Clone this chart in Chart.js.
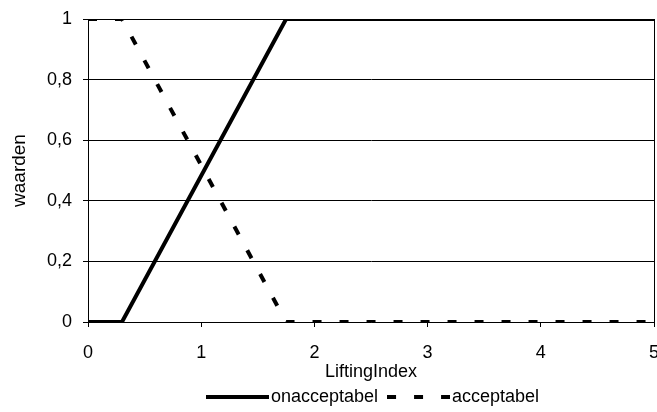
<!DOCTYPE html>
<html>
<head>
<meta charset="utf-8">
<script src="https://cdn.jsdelivr.net/npm/chart.js@4"></script>
<style>
  html, body { margin: 0; padding: 0; background: #fff; }
  #wrap { width: 657px; height: 412px; }
</style>
</head>
<body>
<div id="wrap"><canvas id="myChart"></canvas></div>
<script>
// breakpoints on the LiftingIndex axis
const liftingIndex = [0, 0.3, 1.75, 5];
const onacceptabel = [0, 0, 1, 1];
const acceptabel = [1, 1, 0, 0];
const xTicks = [0, 1, 2, 3, 4, 5];
const yTicks = [0, 0.2, 0.4, 0.6, 0.8, 1];

const FONT = 'Liberation Sans, Arial, sans-serif';

function toPoints(xs, ys) {
  return xs.map((x, i) => ({ x: x, y: ys[i] }));
}

// small legend sample (solid or dashed line) as an image for pointStyle
function lineSample(dash) {
  const c = document.createElement('canvas');
  c.width = 63;
  c.height = 6;
  const g = c.getContext('2d');
  g.strokeStyle = '#000';
  g.lineWidth = 4;
  g.setLineDash(dash);
  g.beginPath();
  g.moveTo(0, 3);
  g.lineTo(63, 3);
  g.stroke();
  return c;
}

// move the legend so it sits under the plot like the original
const legendShift = {
  id: 'legendShift',
  afterLayout(chart) {
    const lg = chart.legend;
    lg.left += 49;
    lg.right += 49;
    lg.top -= 9;
    lg.bottom -= 9;
  }
};

const ctx = document.getElementById('myChart').getContext('2d');
new Chart(ctx, {
  type: 'line',
  data: {
    datasets: [
      {
        label: 'onacceptabel',
        data: toPoints(liftingIndex, onacceptabel),
        borderColor: '#000',
        backgroundColor: '#000',
        borderWidth: 4,
        pointRadius: 0,
        pointStyle: lineSample([]),
        tension: 0
      },
      {
        label: 'acceptabel',
        data: toPoints(liftingIndex, acceptabel),
        borderColor: '#000',
        backgroundColor: '#000',
        borderWidth: 4,
        borderDash: [9, 18],
        pointRadius: 0,
        pointStyle: lineSample([9, 18]),
        tension: 0
      }
    ]
  },
  options: {
    responsive: true,
    maintainAspectRatio: false,
    animation: false,
    layout: { padding: { top: 19, right: 3, bottom: -13, left: 0 } },
    plugins: {
      tooltip: { enabled: false },
      legend: {
        position: 'bottom',
        labels: {
          usePointStyle: true,
          pointStyleWidth: 49,
          padding: 16,
          color: '#000',
          font: { family: FONT, size: 18 }
        }
      }
    },
    scales: {
      x: {
        type: 'linear',
        min: 0,
        max: 5,
        afterBuildTicks: s => { s.ticks = xTicks.map(v => ({ value: v })); },
        afterFit: s => { s.paddingLeft = 0; s.paddingRight = 0; },
        border: { display: true, color: '#000', width: 1 },
        grid: {
          color: c => (c.tick && c.tick.value === 5 ? '#000' : 'rgba(0,0,0,0)'),
          tickColor: '#000',
          tickLength: 5,
          lineWidth: 1
        },
        ticks: {
          color: '#000',
          padding: 17,
          maxRotation: 0,
          font: { family: FONT, size: 18, lineHeight: 1 }
        },
        title: {
          display: true,
          text: 'LiftingIndex',
          color: '#000',
          padding: { top: -16, bottom: 0 },
          font: { family: FONT, size: 18, lineHeight: 1 }
        }
      },
      y: {
        min: 0,
        max: 1,
        afterBuildTicks: s => { s.ticks = yTicks.map(v => ({ value: v })); },
        afterFit: s => { s.width = 88; s.paddingTop = 0; s.paddingBottom = 0; },
        border: { display: true, color: '#000', width: 1 },
        grid: {
          color: '#000',
          tickColor: '#000',
          tickLength: 5,
          lineWidth: 1
        },
        ticks: {
          color: '#000',
          padding: 11,
          callback: v => String(v).replace('.', ','),
          font: { family: FONT, size: 18 }
        },
        title: {
          display: true,
          text: 'waarden',
          color: '#000',
          padding: { top: 8, bottom: 0 },
          font: { family: FONT, size: 19 }
        }
      }
    }
  },
  plugins: [legendShift]
});
</script>
</body>
</html>
